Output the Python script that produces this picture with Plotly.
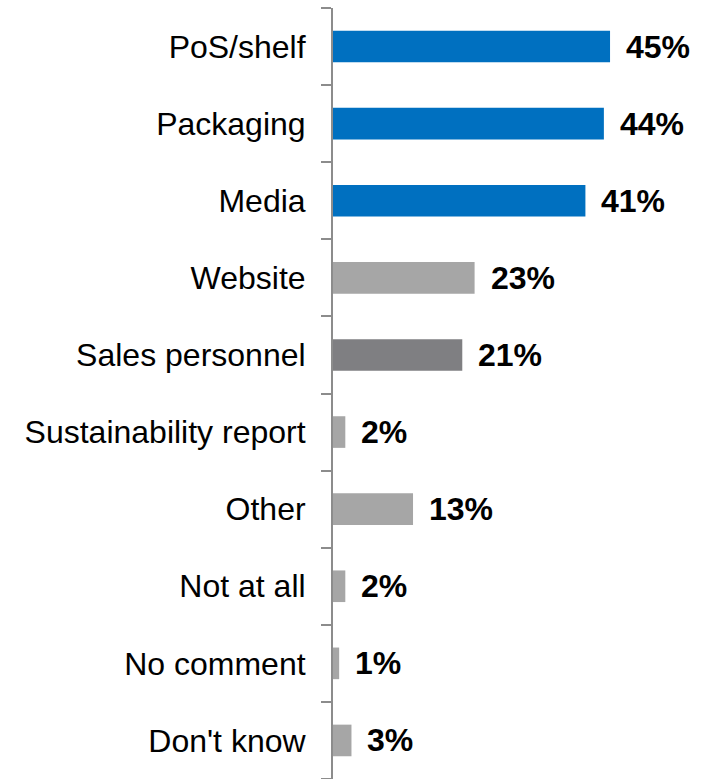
import plotly.graph_objects as go

# Survey: where respondents noticed sustainability information
categories = ["PoS/shelf", "Packaging", "Media", "Website", "Sales personnel",
              "Sustainability report", "Other", "Not at all", "No comment", "Don't know"]
values = [45, 44, 41, 23, 21, 2, 13, 2, 1, 3]
colors = ["#0070C0", "#0070C0", "#0070C0", "#A6A6A6", "#7F7F82",
          "#A6A6A6", "#A6A6A6", "#A6A6A6", "#A6A6A6", "#A6A6A6"]

FONT = "Liberation Sans, Arial, sans-serif"

fig = go.Figure(go.Bar(
    x=values,
    y=categories,
    orientation="h",
    marker=dict(color=colors, line=dict(width=0)),
    width=0.41,
    hoverinfo="skip",
))

# bold value labels just right of each bar
for cat, val in zip(categories, values):
    fig.add_annotation(
        x=val, y=cat, text=f"<b>{val}%</b>",
        showarrow=False, xanchor="left", yanchor="middle",
        xshift=14, font=dict(family=FONT, size=32, color="#000000"),
    )

fig.update_layout(
    width=711, height=779,
    margin=dict(l=333, r=0, t=8, b=0),
    paper_bgcolor="white", plot_bgcolor="white",
    showlegend=False,
    bargap=0.6,
    xaxis=dict(range=[0, 61.4], visible=False, fixedrange=True),
    yaxis=dict(
        categoryorder="array", categoryarray=categories[::-1],
        autorange=False, range=[-0.5, len(categories) - 0.5],
        showline=True, linecolor="#8C8C8C", linewidth=2,
        ticks="outside", tickson="boundaries", ticklen=10,
        tickcolor="#8C8C8C", tickwidth=2,
        ticklabelstandoff=19,
        showgrid=False, zeroline=False,
        tickfont=dict(family=FONT, size=32, color="#000000"),
    ),
)

fig.write_html("out.html")
